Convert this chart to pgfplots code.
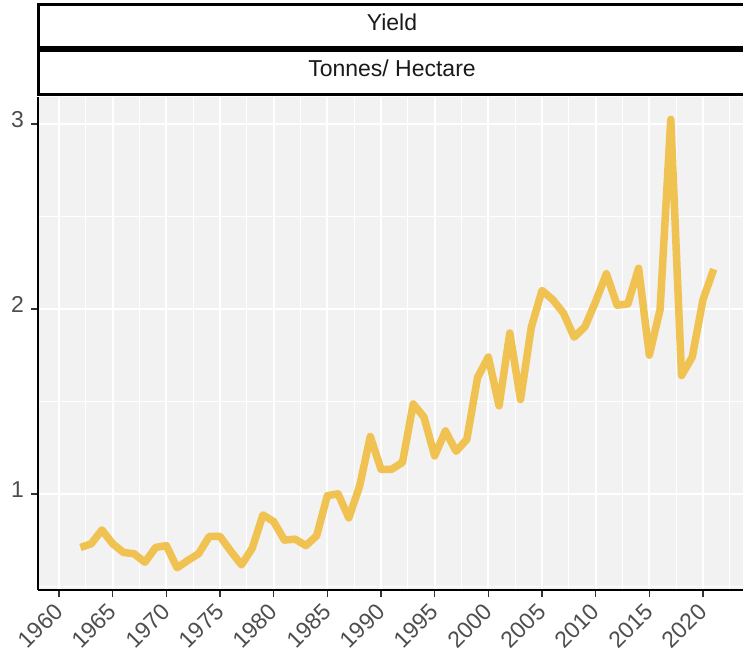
\documentclass[border=0pt]{standalone}
\usepackage{pgfplots}
\pgfplotsset{compat=1.18}
\usepackage{fontspec}
\setmainfont{Liberation Sans}
\definecolor{panelbg}{HTML}{F2F2F2}
\definecolor{linecol}{RGB}{240,194,82}
\definecolor{ticklab}{HTML}{4D4D4D}
\definecolor{tickcol}{HTML}{333333}
\definecolor{striptext}{HTML}{1A1A1A}
\newcommand{\tl}{\fontsize{23}{27}\selectfont}
\begin{document}
\begin{tikzpicture}[font=\tl]
\useasboundingbox (-38pt,-67pt) rectangle (705pt,590pt);
\clip (-38pt,-67pt) rectangle (705pt,590pt);
\begin{axis}[
  at={(0pt,0pt)}, anchor=south west,
  scale only axis, width=705pt, height=493pt,
  xmin=1958.04, xmax=2023.73,
  ymin=0.48, ymax=3.146,
  axis background/.style={fill=panelbg},
  axis x line*=bottom, axis y line*=left,
  axis line style={black, line width=2.8pt},
  xtick={1960,1965,...,2020},
  xticklabels={1960,1965,1970,1975,1980,1985,1990,1995,2000,2005,2010,2015,2020},
  ytick={1,2,3},
  yticklabels={1,2,3},
  minor xtick={1957.5,1962.5,...,2022.5},
  minor ytick={0.5,1.5,2.5},
  grid=both,
  major grid style={white, line width=2.2pt},
  minor grid style={white, line width=1.1pt},
  tick align=outside,
  major tick length=7pt, minor tick length=0pt,
  tick style={draw=tickcol, line width=1.6pt},
  tick label style={font=\tl, text=ticklab, inner sep=0pt, text height=0.72em, text depth=0pt},
  xticklabel style={rotate=45, anchor=north east},
  xticklabel shift=11pt,
  yticklabel shift=7pt,
]
\addplot[linecol, line width=7.5pt, line join=round, line cap=butt] coordinates {
(1962,0.71) (1963,0.73) (1964,0.805) (1965,0.73) (1966,0.683) (1967,0.676)
(1968,0.63) (1969,0.71) (1970,0.72) (1971,0.60) (1972,0.64) (1973,0.676)
(1974,0.77) (1975,0.77) (1976,0.69) (1977,0.616) (1978,0.706) (1979,0.886)
(1980,0.85) (1981,0.75) (1982,0.755) (1983,0.72) (1984,0.773) (1985,0.99)
(1986,1.0) (1987,0.87) (1988,1.04) (1989,1.31) (1990,1.133) (1991,1.133)
(1992,1.17) (1993,1.486) (1994,1.415) (1995,1.205) (1996,1.34) (1997,1.23)
(1998,1.295) (1999,1.63) (2000,1.74) (2001,1.476) (2002,1.87) (2003,1.51)
(2004,1.90) (2005,2.10) (2006,2.05) (2007,1.977) (2008,1.847) (2009,1.904)
(2010,2.04) (2011,2.19) (2012,2.02) (2013,2.027) (2014,2.22) (2015,1.75)
(2016,1.995) (2017,3.025) (2018,1.64) (2019,1.74) (2020,2.05) (2021,2.215)
};
\end{axis}
% strips
\fill[white] (0pt,542pt) rectangle (720pt,585pt);
\fill[white] (0pt,495pt) rectangle (720pt,539pt);
\draw[black, line width=3pt] (720pt,585pt) -- (0pt,585pt) -- (0pt,542pt) -- (720pt,542pt);
\draw[black, line width=3pt] (720pt,539pt) -- (0pt,539pt) -- (0pt,495pt) -- (720pt,495pt);
\node[text=striptext, text height=0.72em, text depth=0pt, inner sep=0pt, anchor=center] at (354pt,563.5pt) {Yield};
\node[text=striptext, text height=0.72em, text depth=0pt, inner sep=0pt, anchor=center] at (354pt,517pt) {Tonnes/ Hectare};
\end{tikzpicture}
\end{document}
